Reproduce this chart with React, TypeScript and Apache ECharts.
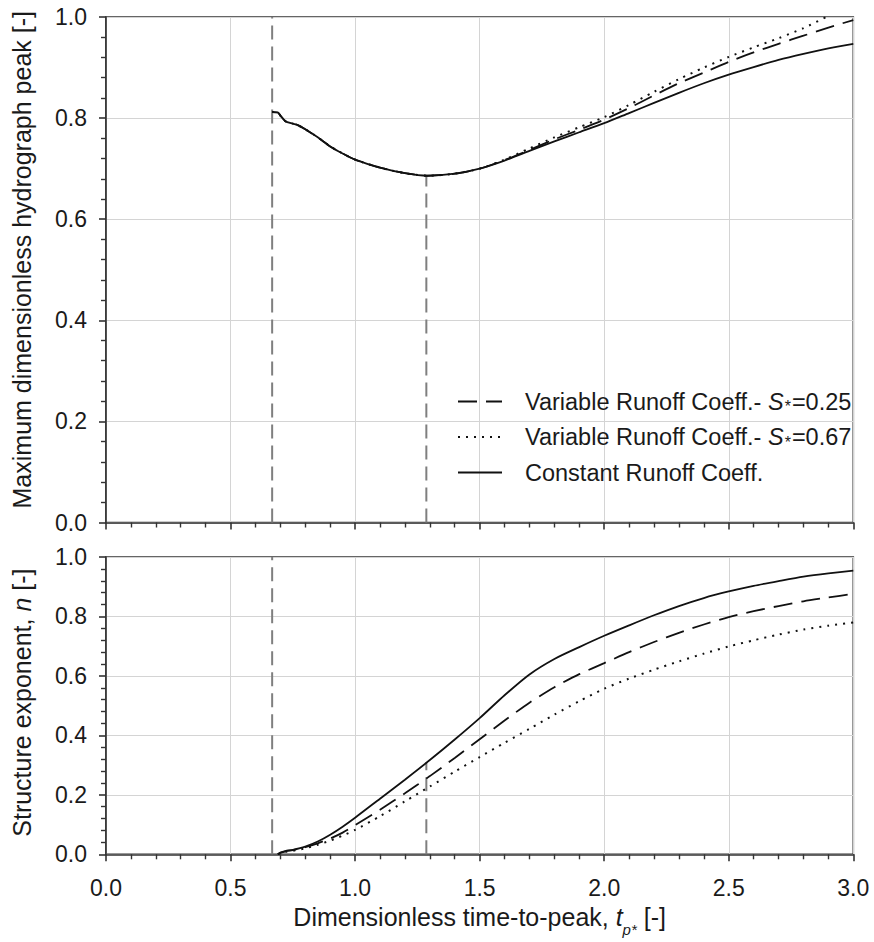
import React, { useEffect, useRef } from "react";
import * as echarts from "echarts";

// ---- data ----
const topX = [0.667, 0.69, 0.70, 0.72, 0.75, 0.77, 0.80, 0.85, 0.90, 0.95, 1.0, 1.1, 1.2, 1.29, 1.4, 1.5, 1.6, 1.7, 1.8, 1.9, 2.0, 2.1, 2.2, 2.3, 2.4, 2.5, 2.6, 2.7, 2.8, 2.9, 3.0];
const topSolid = [0.812, 0.811, 0.805, 0.794, 0.789, 0.786, 0.778, 0.762, 0.744, 0.730, 0.718, 0.702, 0.691, 0.686, 0.690, 0.700, 0.716, 0.735, 0.754, 0.772, 0.790, 0.810, 0.830, 0.850, 0.869, 0.886, 0.901, 0.915, 0.927, 0.938, 0.947];
const topDashed = [0.812, 0.811, 0.805, 0.794, 0.789, 0.786, 0.778, 0.762, 0.744, 0.730, 0.718, 0.702, 0.691, 0.686, 0.690, 0.700, 0.717, 0.737, 0.758, 0.777, 0.797, 0.820, 0.845, 0.869, 0.890, 0.911, 0.930, 0.947, 0.963, 0.979, 0.994];
const topDotted = [0.812, 0.811, 0.805, 0.794, 0.789, 0.786, 0.778, 0.762, 0.744, 0.730, 0.718, 0.702, 0.691, 0.686, 0.690, 0.700, 0.718, 0.740, 0.762, 0.782, 0.802, 0.826, 0.852, 0.877, 0.900, 0.921, 0.940, 0.958, 0.978, 1.002, 1.025];

const botX = [0.69, 0.70, 0.72, 0.75, 0.80, 0.85, 0.90, 0.95, 1.0, 1.1, 1.2, 1.3, 1.4, 1.5, 1.6, 1.7, 1.8, 1.9, 2.0, 2.1, 2.2, 2.3, 2.4, 2.5, 2.6, 2.7, 2.8, 2.9, 3.0];
const botSolid = [0, 0.006, 0.011, 0.015, 0.026, 0.043, 0.066, 0.093, 0.123, 0.187, 0.251, 0.317, 0.386, 0.458, 0.535, 0.605, 0.657, 0.697, 0.735, 0.770, 0.804, 0.835, 0.862, 0.884, 0.903, 0.919, 0.934, 0.945, 0.954];
const botDashed = [0, 0.005, 0.010, 0.014, 0.024, 0.037, 0.053, 0.073, 0.098, 0.150, 0.205, 0.263, 0.324, 0.387, 0.450, 0.510, 0.562, 0.606, 0.643, 0.680, 0.714, 0.745, 0.773, 0.798, 0.818, 0.835, 0.851, 0.864, 0.876];
const botDotted = [0, 0.004, 0.008, 0.012, 0.020, 0.032, 0.046, 0.063, 0.082, 0.128, 0.178, 0.228, 0.278, 0.327, 0.375, 0.422, 0.470, 0.515, 0.557, 0.591, 0.621, 0.649, 0.675, 0.699, 0.720, 0.739, 0.756, 0.769, 0.780];

const vLineX = [0.667, 1.286];
const vLineTopY = [1.0, 0.686];
const vLineBotY = [1.0, 0.31];

const seriesNames = [
  "Variable Runoff Coeff.- S*=0.25",
  "Variable Runoff Coeff.- S*=0.67",
  "Constant Runoff Coeff.",
];

const FONT = "Liberation Sans, Arial, sans-serif";
const TXT = "#1a1a1a";
const AX = "#333333";

const pair = (xs: number[], ys: number[]) => xs.map((x, i) => [x, ys[i]]);

export default function App() {
  const ref = useRef<HTMLDivElement>(null);
  useEffect(() => {
    if (!ref.current) return;
    const chart = echarts.init(ref.current, undefined, { renderer: "svg" });

    const styles: any[] = [
      { color: "#111", width: 1.8, type: [19, 9] },
      { color: "#111", width: 2, type: [2, 6] },
      { color: "#111", width: 1.8, type: "solid" },
    ];
    const dashArr: any[] = [[19, 9], [2, 6], null];

    const mkX = (gi: number, labels: boolean) => ({
      type: "value",
      gridIndex: gi,
      min: 0,
      max: 3,
      interval: 0.5,
      axisLine: { show: true, onZero: false, lineStyle: { color: AX, width: 1.6 } },
      axisTick: { show: true, inside: false, length: 7, lineStyle: { color: AX, width: 1.6 } },
      minorTick: { show: true, splitNumber: 5, length: 5, lineStyle: { color: AX, width: 1.4 } },
      splitLine: { show: true, lineStyle: { color: "#d4d4d4", width: 1 } },
      axisLabel: {
        show: labels,
        margin: 22,
        fontSize: 23,
        fontFamily: FONT,
        color: TXT,
        formatter: (v: number) => v.toFixed(1),
      },
      ...(labels
        ? {
            name: "{n|Dimensionless time-to-peak, }{i|t}{sub|p*}{n| [-]}",
            nameLocation: "middle",
            nameGap: 43,
            nameTextStyle: {
              fontFamily: FONT,
              color: TXT,
              rich: {
                n: { fontSize: 25, fontFamily: FONT, color: TXT, lineHeight: 40 },
                i: { fontSize: 25, fontFamily: FONT, color: TXT, fontStyle: "italic", lineHeight: 40 },
                sub: { fontSize: 15, fontFamily: FONT, color: TXT, fontStyle: "italic", lineHeight: 15, verticalAlign: "bottom" },
              },
            },
          }
        : {}),
    });

    const mkY = (gi: number, name: string, shift: number) => ({
      type: "value",
      gridIndex: gi,
      min: 0,
      max: 1,
      interval: 0.2,
      name,
      nameLocation: "middle",
      nameGap: 71,
      nameTextStyle: {
        fontFamily: FONT,
        color: TXT,
        fontSize: 25,
        lineHeight: 26,
        padding: [0, 0, 0, shift],
        rich: {
          n: { fontSize: 25, fontFamily: FONT, color: TXT, lineHeight: 26 },
          i: { fontSize: 25, fontFamily: FONT, color: TXT, fontStyle: "italic", lineHeight: 26 },
        },
      },
      axisLine: { show: true, onZero: false, lineStyle: { color: AX, width: 1.6 } },
      axisTick: { show: true, inside: false, length: 7, lineStyle: { color: AX, width: 1.6 } },
      minorTick: { show: true, splitNumber: 5, length: 5, lineStyle: { color: AX, width: 1.4 } },
      splitLine: { show: true, lineStyle: { color: "#d4d4d4", width: 1 } },
      axisLabel: {
        margin: 19,
        fontSize: 23,
        fontFamily: FONT,
        color: TXT,
        formatter: (v: number) => v.toFixed(1),
      },
    });

    const curve = (idx: number, gi: number, xs: number[], ys: number[], z: number) => ({
      name: seriesNames[idx],
      type: "line",
      xAxisIndex: gi,
      yAxisIndex: gi,
      data: pair(xs, ys),
      symbol: "none",
      smooth: 0.25,
      lineStyle: styles[idx],
      itemStyle: { color: "#111" },
      clip: true,
      z,
    });

    const vline = (gi: number, x: number, y: number) => ({
      type: "line",
      xAxisIndex: gi,
      yAxisIndex: gi,
      data: [
        [x, 0],
        [x, y],
      ],
      symbol: "none",
      lineStyle: { color: "#7f7f7f", width: 2, type: [14, 7] },
      silent: true,
      z: 1,
    });

    // legend drawn as graphic (line samples + rich text)
    const rowY = [401.5, 437, 472.5];
    const legendRich = {
      n: { fontSize: 23.5, fontFamily: FONT, fill: TXT, lineHeight: 26 },
      i: { fontSize: 23.5, fontFamily: FONT, fill: TXT, fontStyle: "italic", lineHeight: 26 },
      s: { fontSize: 16, fontFamily: FONT, fill: TXT, lineHeight: 13, verticalAlign: "bottom", padding: [0, 1, 0, 1] },
    };
    const fmt = (name: string) => {
      const k = name.indexOf("S*");
      if (k < 0) return "{n|" + name + "}";
      return "{n|" + name.slice(0, k) + "}{i|S}{s|*}{n|" + name.slice(k + 2) + "}";
    };
    const legendElems: any[] = [];
    seriesNames.forEach((nm, i) => {
      legendElems.push({
        type: "line",
        shape: { x1: 458, y1: rowY[i], x2: 502, y2: rowY[i] },
        style: { stroke: "#111", lineWidth: i === 1 ? 2 : 1.8, lineDash: dashArr[i] || undefined },
        z: 10,
      });
      legendElems.push({
        type: "text",
        x: 525,
        y: rowY[i],
        style: {
          text: fmt(nm),
          rich: legendRich,
          font: "23.5px " + FONT,
          fill: TXT,
          align: "left",
          verticalAlign: "middle",
        },
        z: 10,
      });
    });

    const option: any = {
      animation: false,
      backgroundColor: "#ffffff",
      textStyle: { fontFamily: FONT },
      grid: [
        { left: 106, right: 20.7, top: 17, height: 505.5, show: true, borderColor: AX, borderWidth: 1.6, backgroundColor: "transparent" },
        { left: 106, right: 20.7, top: 557, height: 297.3, show: true, borderColor: AX, borderWidth: 1.6, backgroundColor: "transparent" },
      ],
      xAxis: [mkX(0, false), mkX(1, true)],
      yAxis: [
        mkY(0, "{n|Maximum dimensionless hydrograph peak [-]}", 20),
        mkY(1, "{n|Structure exponent, }{i|n}{n| [-]}", 6),
      ],
      graphic: legendElems,
      series: [
        vline(0, vLineX[0], vLineTopY[0]),
        vline(0, vLineX[1], vLineTopY[1]),
        vline(1, vLineX[0], vLineBotY[0]),
        vline(1, vLineX[1], vLineBotY[1]),
        curve(0, 0, topX, topDashed, 3),
        curve(1, 0, topX, topDotted, 3),
        curve(2, 0, topX, topSolid, 4),
        curve(0, 1, botX, botDashed, 3),
        curve(1, 1, botX, botDotted, 3),
        curve(2, 1, botX, botSolid, 4),
      ],
    };

    chart.setOption(option);
    return () => chart.dispose();
  }, []);

  return (
    <div
      ref={ref}
      style={{ position: "fixed", left: 0, top: 0, width: 874, height: 942, background: "#fff" }}
    />
  );
}
